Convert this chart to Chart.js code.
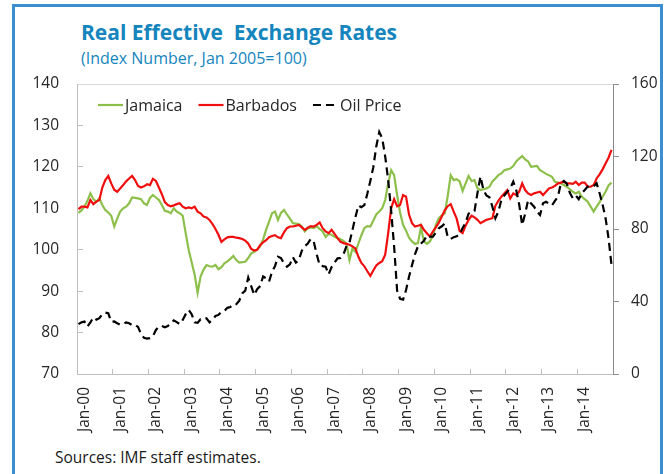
<!DOCTYPE html>
<html>
<head>
<meta charset="utf-8">
<title>Real Effective Exchange Rates</title>
<script src="https://cdn.jsdelivr.net/npm/chart.js@4.4.1/dist/chart.umd.min.js"></script>
<style>
  html, body { margin: 0; padding: 0; background: #fff; }
  body { width: 670px; height: 474px; position: relative; overflow: hidden; font-family: 'Open Sans', sans-serif; }
  .frame { position: absolute; left: 12px; top: 4px; width: 651px; height: 520px; border: 3px solid #3b8ed0; box-sizing: border-box; }
  .title { position: absolute; left: 81px; top: 22px; font-size: 21px; line-height: 21px; font-weight: 700; color: #1585bd; white-space: pre; }
  .subtitle { position: absolute; left: 81px; top: 50px; font-size: 16px; line-height: 16px; color: #1585bd; white-space: pre; }
  .source { position: absolute; left: 55px; top: 450px; font-size: 15.5px; line-height: 15.5px; color: #1a1a1a; white-space: pre; }
  #chart { position: absolute; left: 0; top: 0; }
</style>
</head>
<body>
<div class="frame"></div>
<div class="title">Real Effective  Exchange Rates</div>
<div class="subtitle">(Index Number, Jan 2005=100)</div>
<div class="source">Sources: IMF staff estimates.</div>
<canvas id="chart" width="670" height="474"></canvas>
<script>
// tick labels on the x axis (one per year)
const yearTicks = ['Jan-00', 'Jan-01', 'Jan-02', 'Jan-03', 'Jan-04', 'Jan-05', 'Jan-06', 'Jan-07',
  'Jan-08', 'Jan-09', 'Jan-10', 'Jan-11', 'Jan-12', 'Jan-13', 'Jan-14'];
const monthNames = ['Jan', 'Feb', 'Mar', 'Apr', 'May', 'Jun', 'Jul', 'Aug', 'Sep', 'Oct', 'Nov', 'Dec'];

// REER, index Jan 2005 = 100 (monthly, Jan-00 .. Dec-14)
const jamaica = [
  108.9, 109.5, 110.4, 111.8, 113.6, 112.2, 111.6, 112.4, 110.8, 109.6, 109.0, 108.2, // 2000
  105.6, 107.5, 109.2, 110.0, 110.4, 111.2, 112.6, 112.5, 112.4, 112.2, 111.2, 110.8, // 2001
  112.5, 113.2, 112.6, 112.0, 110.8, 109.4, 109.2, 108.8, 110.0, 109.2, 108.8, 108.2, // 2002
  104.0, 100.0, 97.0, 94.0, 89.6, 93.5, 95.2, 96.3, 96.0, 95.9, 96.3, 95.3,           // 2003
  95.8, 96.7, 97.2, 97.8, 98.5, 97.5, 96.9, 97.0, 97.1, 98.0, 99.1, 99.5,             // 2004
  100.0, 100.8, 102.5, 104.8, 106.8, 108.8, 109.2, 107.2, 108.9, 109.6, 108.5, 107.5, // 2005
  106.4, 106.3, 106.2, 105.6, 104.4, 105.2, 105.4, 105.2, 105.7, 105.0, 104.4, 103.1, // 2006
  103.8, 103.6, 103.1, 102.8, 102.5, 102.1, 101.5, 97.5, 100.3, 99.5, 101.5, 103.5,   // 2007
  105.2, 105.7, 105.6, 107.0, 108.5, 109.2, 110.0, 112.0, 116.0, 119.2, 118.0, 113.2, // 2008
  109.0, 106.0, 104.6, 102.9, 102.0, 101.4, 101.6, 105.4, 102.0, 101.4, 102.0, 103.3, // 2009
  106.0, 107.6, 108.3, 108.8, 113.0, 118.0, 116.8, 117.0, 116.5, 114.2, 116.0, 117.8, // 2010
  116.6, 116.8, 114.8, 114.4, 114.6, 114.8, 115.2, 116.5, 117.2, 118.0, 118.4, 119.2, // 2011
  119.4, 119.6, 120.2, 121.3, 122.0, 122.6, 121.8, 121.3, 120.0, 120.1, 120.2, 119.2, // 2012
  118.8, 118.3, 118.0, 117.6, 116.4, 116.2, 116.0, 115.6, 115.2, 114.6, 114.0, 113.6, // 2013
  114.0, 112.8, 112.2, 111.6, 110.4, 109.2, 110.4, 111.5, 112.8, 114.0, 115.5, 116.2  // 2014
];

const barbados = [
  109.8, 110.4, 110.4, 110.2, 112.0, 111.0, 111.6, 112.0, 115.0, 116.8, 117.8, 116.0, // 2000
  114.5, 114.0, 114.8, 115.6, 116.5, 117.2, 117.8, 116.8, 115.4, 115.0, 115.3, 115.8, // 2001
  115.6, 117.1, 116.6, 115.0, 113.4, 111.5, 110.8, 110.5, 110.7, 111.0, 111.2, 110.4, // 2002
  110.0, 110.2, 110.0, 110.4, 109.2, 108.8, 108.0, 107.8, 107.2, 106.2, 105.0, 103.6, // 2003
  101.9, 102.5, 103.0, 103.1, 103.1, 102.9, 102.8, 102.6, 102.2, 101.5, 100.2, 99.8,  // 2004
  100.0, 101.1, 101.8, 102.3, 103.0, 103.3, 103.5, 103.0, 102.8, 104.2, 105.2, 105.6, // 2005
  105.6, 105.8, 106.0, 105.4, 104.8, 105.3, 105.7, 105.6, 106.0, 106.6, 105.2, 104.4, // 2006
  104.0, 104.8, 103.8, 102.8, 101.9, 101.6, 101.4, 101.2, 100.8, 100.3, 98.3, 96.8,   // 2007
  96.0, 94.8, 93.7, 95.0, 96.2, 96.8, 97.2, 98.8, 104.0, 110.0, 112.2, 110.5,         // 2008
  110.8, 113.2, 112.8, 108.5, 106.4, 105.6, 105.8, 106.0, 104.8, 104.0, 103.2, 104.4, // 2009
  105.4, 106.5, 108.0, 109.5, 110.5, 111.0, 109.2, 107.5, 104.5, 104.0, 105.8, 107.2, // 2010
  108.2, 107.8, 107.2, 106.4, 106.8, 107.2, 107.4, 107.6, 110.6, 111.8, 112.8, 113.6, // 2011
  114.4, 112.4, 113.6, 113.2, 114.0, 116.0, 114.4, 113.6, 113.2, 113.6, 113.8, 114.0, // 2012
  113.2, 114.0, 114.8, 115.0, 115.4, 116.0, 116.2, 116.4, 116.0, 116.0, 115.9, 116.4, // 2013
  115.6, 116.2, 116.2, 115.2, 115.2, 115.6, 117.2, 118.2, 119.4, 120.8, 122.2, 124.1  // 2014
];

// Oil price, US$ per barrel (right axis)
const oilPrice = [
  27.5, 28.5, 28.9, 26.1, 28.5, 31.2, 30.0, 30.8, 33.0, 33.9, 33.5, 28.9,             // 2000
  29.0, 28.0, 27.2, 27.5, 28.5, 28.0, 27.0, 27.2, 26.0, 22.0, 20.0, 19.5,             // 2001
  19.8, 20.8, 24.3, 26.1, 26.5, 25.8, 26.5, 28.0, 29.6, 28.6, 27.5, 29.8,             // 2002
  33.0, 35.3, 33.0, 28.5, 28.2, 30.2, 30.0, 30.7, 28.5, 30.0, 32.0, 32.6,             // 2003
  34.2, 34.8, 36.5, 37.0, 38.5, 38.5, 40.5, 44.5, 46.0, 53.2, 48.5, 43.6,             // 2004
  46.8, 48.5, 53.8, 52.8, 51.0, 56.5, 59.5, 64.7, 64.0, 61.0, 59.2, 60.5,             // 2005
  64.5, 61.5, 62.9, 68.0, 70.5, 72.0, 74.5, 73.0, 66.0, 60.0, 59.5, 59.2,             // 2006
  55.0, 59.0, 61.5, 63.8, 64.0, 66.0, 70.5, 72.5, 79.5, 86.5, 93.0, 92.0,             // 2007
  93.2, 99.5, 106.5, 114.0, 125.5, 133.5, 130.0, 120.0, 107.0, 90.0, 70.3, 46.0,      // 2008
  41.5, 41.0, 46.3, 53.7, 60.0, 66.0, 70.5, 72.0, 73.5, 76.5, 75.8, 75.8,             // 2009
  78.0, 80.4, 81.5, 83.0, 75.5, 74.5, 75.5, 76.0, 77.0, 80.5, 83.5, 88.5,             // 2010
  89.6, 90.0, 100.0, 109.0, 101.5, 98.5, 97.5, 92.3, 86.0, 89.6, 96.0, 98.5,          // 2011
  100.5, 102.5, 106.1, 101.5, 93.5, 82.2, 88.5, 96.0, 94.0, 92.3, 89.5, 87.7,         // 2012
  94.2, 95.0, 94.0, 93.0, 95.5, 97.8, 105.2, 106.5, 105.0, 100.0, 97.0, 98.5,         // 2013
  96.4, 99.7, 101.5, 103.4, 103.4, 103.6, 105.2, 99.7, 93.5, 86.0, 75.0, 60.1         // 2014
];

// monthly categories, Jan-00 .. Dec-14
const months = [];
yearTicks.forEach(y => monthNames.forEach(m => months.push(m + y.slice(3))));

const axisGray = '#bfbfbf';
const textColor = '#262626';

Chart.defaults.font.family = "'Open Sans', sans-serif";
Chart.defaults.color = textColor;

// legend drawn inside the plot, one row at the top left, like the original
const inPlotLegend = {
  id: 'inPlotLegend',
  afterDatasetsDraw(chart) {
    const ctx = chart.ctx;
    const area = chart.chartArea;
    let x = area.left + 21;
    const y = area.top + 21;
    ctx.save();
    ctx.font = "16px 'Open Sans', sans-serif";
    ctx.textBaseline = 'middle';
    ctx.textAlign = 'left';
    chart.data.datasets.forEach(ds => {
      ctx.beginPath();
      ctx.setLineDash(ds.borderDash || []);
      ctx.strokeStyle = ds.borderColor;
      ctx.lineWidth = ds.borderWidth;
      ctx.moveTo(x, y);
      ctx.lineTo(x + 25, y);
      ctx.stroke();
      ctx.setLineDash([]);
      ctx.fillStyle = textColor;
      ctx.fillText(ds.label, x + 27, y + 1);
      x += 27 + ctx.measureText(ds.label).width + 16;
    });
    ctx.restore();
  }
};

new Chart(document.getElementById('chart'), {
  type: 'line',
  data: {
    labels: months,
    datasets: [
      { label: 'Jamaica', data: jamaica, yAxisID: 'y', borderColor: '#8dc04b', borderWidth: 2.2, order: 2 },
      { label: 'Barbados', data: barbados, yAxisID: 'y', borderColor: '#f00f0f', borderWidth: 2.2, order: 1 },
      { label: 'Oil Price', data: oilPrice, yAxisID: 'y2', borderColor: '#000000', borderWidth: 2.2, borderDash: [8, 5], order: 0 }
    ]
  },
  options: {
    responsive: false,
    animation: false,
    devicePixelRatio: 1,
    layout: { padding: { top: 84, left: 0, right: 0, bottom: 0 } },
    elements: { point: { radius: 0 }, line: { tension: 0, borderCapStyle: 'butt' } },
    plugins: {
      title: { display: false },
      tooltip: { enabled: false },
      legend: { display: false }
    },
    scales: {
      x: {
        type: 'category',
        offset: true,
        border: { color: axisGray, width: 1 },
        grid: {
          offset: true,
          drawOnChartArea: false,
          tickLength: -5,
          tickColor: ctx => (ctx.index % 12 === 0 ? axisGray : 'rgba(0,0,0,0)')
        },
        ticks: {
          autoSkip: false,
          minRotation: 90,
          maxRotation: 90,
          padding: 18,
          labelOffset: 6,
          font: { size: 15.5 },
          color: textColor,
          callback: (v, i) => (i % 12 === 0 ? yearTicks[i / 12] : '')
        },
        afterFit: s => { s.height = 100; }
      },
      y: {
        position: 'left',
        min: 70,
        max: 140,
        border: { color: axisGray, width: 1 },
        grid: { drawOnChartArea: false, tickLength: -6, tickColor: axisGray },
        ticks: { stepSize: 10, padding: 24, font: { size: 15.5 }, color: textColor },
        afterFit: s => { s.width = 77; }
      },
      y2: {
        position: 'right',
        min: 0,
        max: 160,
        border: { color: '#8c8c8c', width: 1 },
        grid: {
          drawOnChartArea: true,
          tickLength: 6,
          tickColor: '#8c8c8c',
          color: ctx => (ctx.tick && ctx.tick.value === 160 ? '#d9d9d9' : 'rgba(0,0,0,0)')
        },
        ticks: { stepSize: 40, padding: 12, font: { size: 15.5 }, color: textColor },
        afterFit: s => { s.width = 57; }
      }
    }
  },
  plugins: [inPlotLegend]
});
</script>
</body>
</html>
